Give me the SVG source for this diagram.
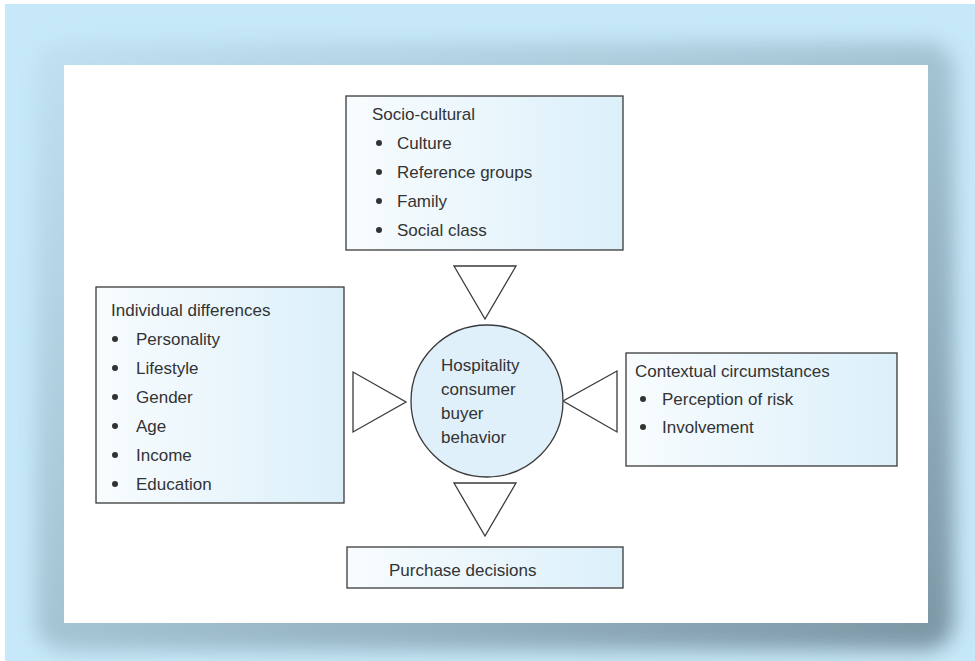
<svg xmlns="http://www.w3.org/2000/svg" width="975" height="661" viewBox="0 0 975 661">
<defs>
<linearGradient id="boxg" x1="0" y1="0" x2="1" y2="0">
<stop offset="0" stop-color="#f8fcfe"/>
<stop offset="1" stop-color="#dcf0fa"/>
</linearGradient>
<linearGradient id="shg" x1="0" y1="0" x2="1" y2="1">
<stop offset="0" stop-color="#bfe1f1"/>
<stop offset="0.5" stop-color="#a3c3d2"/>
<stop offset="1" stop-color="#7b95a3"/>
</linearGradient>
<filter id="blur" x="-10%" y="-10%" width="120%" height="120%">
<feGaussianBlur stdDeviation="10"/>
</filter>
</defs>
<style>
.box{fill:url(#boxg);stroke:#3a3a3a;stroke-width:1.3}
.tri{fill:#ffffff;stroke:#3a3a3a;stroke-width:1.3}
.circ{fill:#dff0fa;stroke:#3a3a3a;stroke-width:1.3}
text{font-family:"Liberation Sans",Arial,sans-serif;font-size:17px;fill:#333333}
.bul{fill:#333333}
</style>
<rect x="5" y="4" width="970" height="657" fill="#c6e8f8"/>
<rect x="36" y="42" width="918" height="608" rx="28" fill="url(#shg)" filter="url(#blur)"/>
<rect x="64" y="65" width="864" height="558" fill="#ffffff"/>

<g id="connectors">
<polygon class="tri" points="454,266 516,266 485,319"/>
<polygon class="tri" points="353,372 353,432 406,402"/>
<polygon class="tri" points="617,371 617,432 563,401"/>
<polygon class="tri" points="454,483 516,483 485,536"/>
</g>

<g id="socio-cultural">
<rect class="box" x="346" y="96" width="277" height="154"/>
<text x="372" y="120">Socio-cultural</text>
<circle class="bul" cx="379" cy="143" r="3"/>
<text x="397" y="149">Culture</text>
<circle class="bul" cx="379" cy="172" r="3"/>
<text x="397" y="178">Reference groups</text>
<circle class="bul" cx="379" cy="201" r="3"/>
<text x="397" y="207">Family</text>
<circle class="bul" cx="379" cy="230" r="3"/>
<text x="397" y="236">Social class</text>
</g>

<g id="individual-differences">
<rect class="box" x="96" y="287" width="248" height="216"/>
<text x="111" y="316">Individual differences</text>
<circle class="bul" cx="115" cy="339" r="3"/>
<text x="136" y="345">Personality</text>
<circle class="bul" cx="115" cy="368" r="3"/>
<text x="136" y="374">Lifestyle</text>
<circle class="bul" cx="115" cy="397" r="3"/>
<text x="136" y="403">Gender</text>
<circle class="bul" cx="115" cy="426" r="3"/>
<text x="136" y="432">Age</text>
<circle class="bul" cx="115" cy="455" r="3"/>
<text x="136" y="461">Income</text>
<circle class="bul" cx="115" cy="484" r="3"/>
<text x="136" y="490">Education</text>
</g>

<g id="hospitality">
<circle class="circ" cx="487" cy="401" r="76"/>
<text x="441" y="371">Hospitality</text>
<text x="441" y="395">consumer</text>
<text x="441" y="419">buyer</text>
<text x="441" y="443">behavior</text>
</g>

<g id="contextual">
<rect class="box" x="626" y="353" width="271" height="113"/>
<text x="635" y="377">Contextual circumstances</text>
<circle class="bul" cx="643" cy="399" r="3"/>
<text x="662" y="405">Perception of risk</text>
<circle class="bul" cx="643" cy="427" r="3"/>
<text x="662" y="433">Involvement</text>
</g>

<g id="purchase">
<rect class="box" x="347" y="547" width="276" height="41"/>
<text x="389" y="576">Purchase decisions</text>
</g>
</svg>
